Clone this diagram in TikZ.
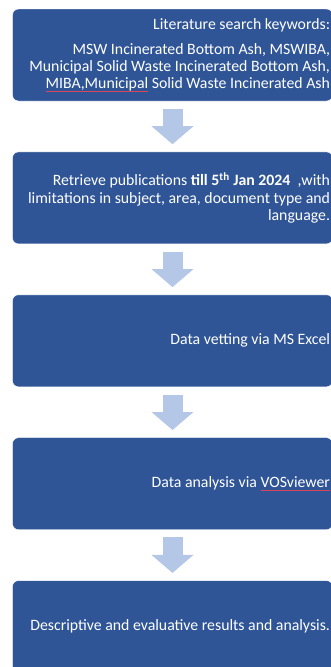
\documentclass[tikz,border=0pt]{standalone}
\usepackage{fontspec}
\setmainfont{Carlito}
\usetikzlibrary{positioning,arrows.meta}
\definecolor{boxblue}{HTML}{2F5597}
\definecolor{arrowblue}{HTML}{B4C7E7}
\definecolor{spellred}{HTML}{D9485A}
\newcommand\spellmark[1]{\leavevmode\setbox0\hbox{#1}\rlap{\color{spellred}\rule[-2.6pt]{\wd0}{0.6pt}}\box0}
\tikzset{
    step-box/.style = {fill=boxblue, draw=white, thin, rectangle, rounded corners=6pt, minimum width=320pt, minimum height=92pt, text width=315pt, inner xsep=2.5pt, align=flush right, text=white, font=\fontsize{15.8pt}{17.3pt}\selectfont},
    flow-arrow/.style = {draw=arrowblue, line width=20pt, -{Triangle[width=42pt, length=18pt, line width=0pt, fill=arrowblue]}, shorten <=7.5pt, shorten >=7.5pt},
}

\begin{document}
\begin{tikzpicture}
\useasboundingbox (0,0) rectangle (331pt,-667pt);
\clip (0,0) rectangle (331pt,-667pt);
\node [step-box] (lit) at (172.5pt,-55pt) {Literature search keywords:\\[7.5pt]
    MSW Incinerated Bottom Ash, MSWIBA,\\
    Municipal Solid Waste Incinerated Bottom Ash,\\
    \spellmark{MIBA,Municipal}\ Solid Waste Incinerated Ash};
\node [step-box, below=50.5pt of lit] (ret) {Retrieve publications \textbf{till 5\textsuperscript{th} Jan 2024}\ \ ,with\\
    limitations in subject, area, document type and\\
    language.};
\node [step-box, below=50.5pt of ret] (vet) {Data vetting via MS Excel};
\node [step-box, below=50.5pt of vet] (ana) {Data analysis via \spellmark{VOSviewer}};
\node [step-box, below=50.5pt of ana] (res) {Descriptive and evaluative results and analysis.};
% arrows between the steps
\draw [flow-arrow] (lit) -- (ret);
\draw [flow-arrow] (ret) -- (vet);
\draw [flow-arrow] (vet) -- (ana);
\draw [flow-arrow] (ana) -- (res);
\end{tikzpicture}
\end{document}
